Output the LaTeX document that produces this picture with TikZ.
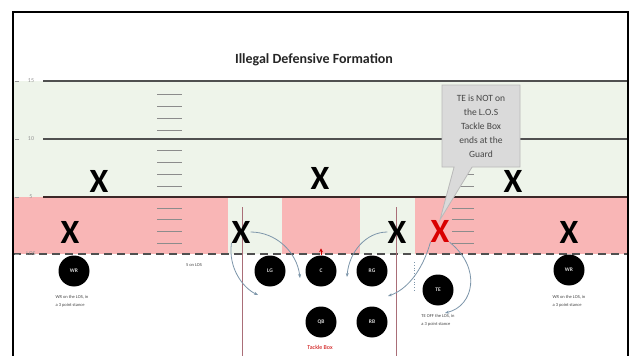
\documentclass[tikz,border=0pt]{standalone}
\usepackage{fontspec}
\setmainfont{Carlito}
\usetikzlibrary{arrows.meta,shapes.callouts}
\definecolor{fieldgreen}{RGB}{238,244,234}
\definecolor{zonered}{RGB}{249,182,182}
\definecolor{yardline}{RGB}{80,80,80}
\definecolor{fiveline}{RGB}{60,40,40}
\definecolor{hashgrey}{RGB}{140,140,140}
\definecolor{arrowblue}{RGB}{125,150,170}
\definecolor{boxline}{RGB}{170,110,120}
\definecolor{calloutfill}{RGB}{218,218,218}
\definecolor{calloutdraw}{RGB}{185,185,185}
\definecolor{labelgrey}{RGB}{150,150,150}
\definecolor{textgrey}{RGB}{70,70,70}
\tikzset{
  xmark/.style={font=\fontsize{34}{34}\selectfont\bfseries, inner sep=0pt},
  player/.style={circle, fill=black, minimum size=31pt, inner sep=0pt, text=white!85!black, font=\fontsize{5.5}{5.5}\selectfont\bfseries},
  yard/.style={line width=2.4pt, draw=yardline},
  hash/.style={draw=hashgrey, line width=0.8pt},
  route/.style={draw=arrowblue, line width=0.8pt, -{Stealth[length=4pt,width=3pt]}},
  note/.style={font=\fontsize{4.5}{8}\selectfont, text=textgrey, align=left, inner sep=0pt},
  ylabel/.style={font=\fontsize{6}{6}\selectfont, text=labelgrey, inner sep=1pt},
  tboxline/.style={draw=boxline, line width=1pt}
}
\begin{document}
\begin{tikzpicture}[x=1pt,y=-1pt]
\useasboundingbox (0,0) rectangle (633,356);
\fill[white] (0,0) rectangle (633,356);
% bands
\fill[fieldgreen] (13,81) rectangle (628,197);
\fill[zonered] (13,197) rectangle (628,254);
\fill[fieldgreen] (228,197) rectangle (282,254);
\fill[fieldgreen] (360,197) rectangle (415,254);
% hash marks
\foreach \y in {94,106,118,130,150,162,174,186,208,219,231,243}{
  \draw[hash] (157,\y) -- (182,\y);
  \draw[hash] (452,\y) -- (474,\y);
}
% yard lines
\draw[yard] (43,81) -- (628,81);
\draw[yard] (43,139) -- (628,139);
\draw[yard, draw=fiveline] (43,197) -- (628,197);
\draw[line width=2.6pt, draw=yardline, dash pattern=on 8pt off 5pt] (13,254) -- (628,254);
% yard labels
\node[ylabel] (l15) at (31,81) {15};
\node[ylabel] (l10) at (31,139) {10};
\node[ylabel] (l5) at (31,197) {5};
\node[ylabel] (llos) at (31,254) {LOS};
\foreach \y in {81,139,197,254}{ \draw[labelgrey, line width=0.8pt] (15,\y) -- (19,\y); }
% tackle box lines
\draw[tboxline] (242,207) -- (242,356);
\draw[tboxline] (396,207) -- (396,356);
% title
\node[font=\fontsize{14}{14}\selectfont\bfseries, text=black!85] (title) at (314,60) {Illegal Defensive Formation};
% defenders
\node[xmark] (xlb1) at (99,181) {X};
\node[xmark] (xlb2) at (320,178) {X};
\node[xmark] (xlb3) at (513,181) {X};
\node[xmark] (xde1) at (70,232) {X};
\node[xmark] (xlg) at (241,232) {X};
\node[xmark] (xrg) at (397,232) {X};
\node[xmark, text=red!85!black] (xte) at (440,231) {X};
\node[xmark] (xde2) at (569,232) {X};
% offence
\node[player] (wr1) at (74,271) {WR};
\node[player] (lg) at (270,271) {LG};
\node[player] (c) at (321,271) {C};
\node[player] (rg) at (372,271) {RG};
\node[player] (qb) at (321,322) {QB};
\node[player] (rb) at (372,322) {RB};
\node[player] (te) at (438,290) {TE};
\node[player] (wr2) at (569,270) {WR};
% notes
\node[note] (n1) at (72,301) {WR on the LOS, in\\a 3 point stance};
\node[note] (n2) at (569,301) {WR on the LOS, in\\a 3 point stance};
\node[note] (n3) at (438,320) {TE OFF the LOS, in\\a 3 point stance};
\node[note] (n4) at (194,265) {5 on LOS};
\node[font=\fontsize{6}{6}\selectfont, text=red!80!black, inner sep=0pt] (tb) at (320,347) {Tackle Box};
% callout
\node[rectangle callout, fill=calloutfill, draw=calloutdraw, line width=0.8pt,
      minimum width=78pt, minimum height=82pt, inner sep=2pt, align=center,
      font=\fontsize{9.5}{14}\selectfont, text=textgrey,
      callout absolute pointer={(xte.north)}, callout pointer width=18pt]
      (call) at (481,126) {TE is NOT on\\the L.O.S\\Tackle Box\\ends at the\\Guard};
% routes
\coordinate (e1) at (300,278);
\coordinate (e2) at (258,295);
\coordinate (e3) at (347,277);
\coordinate (e4) at (388,296);
\coordinate (e5) at (445,313);
\draw[route] (xlg.east) .. controls (276,232) and (297,252) .. (e1);
\draw[route] (xlg.south west) .. controls (228,268) and (243,288) .. (e2);
\draw[route] (xrg.west) .. controls (366,232) and (349,252) .. (e3);
\draw[route] (xte.south west) .. controls (422,272) and (406,290) .. (e4);
\draw[route] (xte.south east) .. controls (482,268) and (474,306) .. (e5);
\coordinate (d1) at (414,262);
\coordinate (d2) at (414,292);
\draw[draw=arrowblue, line width=0.8pt, dotted] (d1) -- (d2);
\draw[draw=red!80!black, line width=0.8pt, -{Stealth[length=4pt,width=4pt]}] (c.north) -- ++(0,-7);
% border
\draw[line width=1.2pt] (13,356) -- (13,12) -- (628,12) -- (628,356);
\end{tikzpicture}
\end{document}
